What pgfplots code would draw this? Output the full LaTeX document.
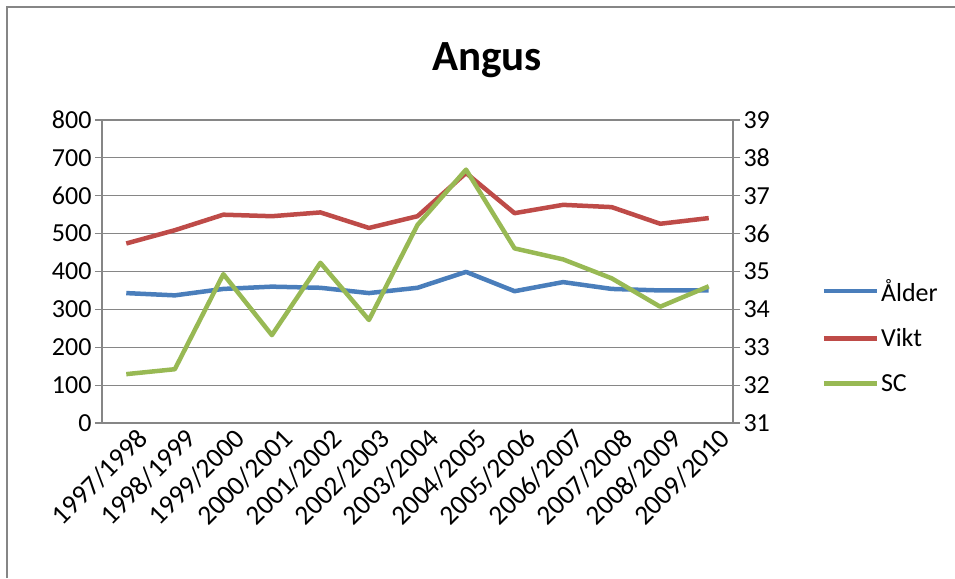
\documentclass[border=0pt]{standalone}
\usepackage{fontspec}
\setmainfont{Carlito}
\usepackage{pgfplots}
\pgfplotsset{compat=1.18}
\definecolor{cblue}{HTML}{4A7EBB}
\definecolor{cred}{HTML}{BE4B48}
\definecolor{cgreen}{HTML}{98B954}
\definecolor{cgrid}{HTML}{868686}
\begin{document}
\begin{tikzpicture}[x=1pt,y=1pt]
\path[use as bounding box] (0,0) rectangle (955,578);
\draw[cgrid, line width=2pt] (7,0) -- (7,571) -- (955,571);
\node[font=\fontsize{43}{50}\selectfont\bfseries] at (487,518) {Angus};
\begin{axis}[
  at={(102pt,155pt)}, anchor=south west,
  scale only axis, width=631pt, height=303pt,
  xmin=-0.5, xmax=12.5, ymin=0, ymax=800,
  ytick={0,100,...,800},
  xtick={0,...,12},
  xticklabels={1997/1998,1998/1999,1999/2000,2000/2001,2001/2002,2002/2003,2003/2004,2004/2005,2005/2006,2006/2007,2007/2008,2008/2009,2009/2010},
  xticklabel style={rotate=45, anchor=north east, inner sep=1pt, xshift=10pt, yshift=-3pt, font=\fontsize{27.5}{30}\selectfont},
  axis lines*=left,
  axis line style={cgrid, line width=1.2pt},
  ymajorgrids, grid style={cgrid, line width=1.2pt},
  tick align=outside, major tick length=7pt,
  ytick style={cgrid, line width=1.2pt},
  xtick style={draw=none},
  /pgf/number format/assume math mode=true,
  yticklabel style={font=\fontsize{26}{30}\selectfont},
  every axis plot/.append style={line width=4.5pt, line join=round, mark=none},
  legend style={at={(1.14,0.287)}, anchor=west, draw=none, fill=none,
    font=\fontsize{26}{30}\selectfont, row sep=22pt, inner sep=0pt,
    /tikz/every even column/.append style={column sep=0pt}},
  legend cell align=left,
  legend image code/.code={\draw[#1] (0pt,0pt) -- (53pt,0pt);},
]
\addplot[cblue] coordinates {(0,343) (1,337) (2,354) (3,360) (4,357) (5,343) (6,357) (7,399) (8,348) (9,372) (10,354) (11,350) (12,350)};
\addlegendentry{Ålder}
\addplot[cred] coordinates {(0,474) (1,509) (2,550) (3,546) (4,556) (5,515) (6,546) (7,660) (8,554) (9,576) (10,570) (11,526) (12,541)};
\addlegendentry{Vikt}
\addlegendimage{cgreen, line width=4.5pt}
\addlegendentry{SC}
\end{axis}
\begin{axis}[
  at={(102pt,155pt)}, anchor=south west,
  scale only axis, width=631pt, height=303pt,
  xmin=-0.5, xmax=12.5, ymin=31, ymax=39,
  ytick={31,...,39},
  axis y line*=right, axis x line=none,
  axis line style={cgrid, line width=1.2pt},
  tick align=outside, major tick length=7pt,
  ytick style={cgrid, line width=1.2pt},
  /pgf/number format/assume math mode=true,
  ticklabel style={font=\fontsize{26}{30}\selectfont},
]
\addplot[cgreen, line width=4.5pt, line join=round, mark=none] coordinates {(0,32.29) (1,32.42) (2,34.93) (3,33.32) (4,35.23) (5,33.72) (6,36.23) (7,37.69) (8,35.61) (9,35.32) (10,34.82) (11,34.07) (12,34.61)};
\end{axis}
\end{tikzpicture}
\end{document}
